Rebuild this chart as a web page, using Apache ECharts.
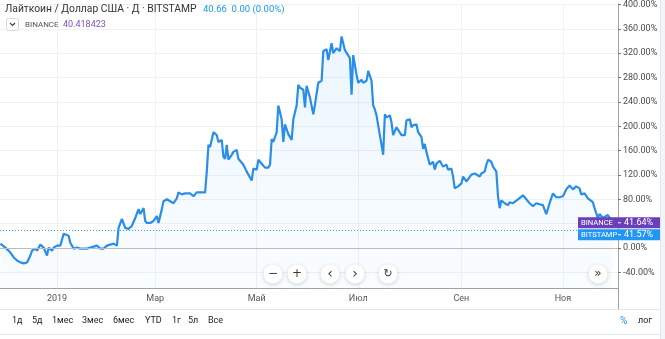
<!DOCTYPE html>
<html>
<head>
<meta charset="utf-8">
<script src="https://cdn.jsdelivr.net/npm/echarts@6/dist/echarts.min.js"></script>
<style>
  html, body { margin: 0; padding: 0; background: #fff; }
  #chart { width: 665px; height: 339px; }
</style>
</head>
<body>
<div id="chart"></div>
<script>
// LTC/USD (Bitstamp), daily closes as % change from the first bar.
// dayIndex = days since 1 Jan 2019.
const dayIndex = [
  -34, -31, -28, -26, -24, -22, -20, -18, -16, -15, -13, -12, -10, -8, -6, -5, -3, -2,
  0, 2, 4, 5, 7, 8, 10, 12, 14, 16, 18, 20, 22, 24, 26, 28, 30, 34, 36, 37, 39, 41, 43, 45,
  47, 49, 50, 52, 53, 54, 56, 58, 60, 61, 63, 64, 66, 68, 70, 72, 73, 75, 77, 78, 80, 82,
  84, 86, 89, 90, 91, 92, 94, 96, 97, 99, 100, 101, 102, 103, 105, 106, 108, 109, 112, 114,
  115, 117, 118, 120, 121, 123, 125, 127, 128, 129, 130, 132, 133, 135, 136, 137, 139, 141,
  142, 144, 145, 146, 148, 149, 150, 152, 154, 155, 157, 159, 160, 162, 163, 165, 166, 168,
  170, 171, 173, 174, 176, 177, 178, 180, 181, 183, 184, 186, 187, 189, 190, 191, 192, 194,
  195, 196, 197, 198, 200, 201, 202, 204, 205, 207, 209, 210, 212, 213, 214, 216, 217, 219,
  220, 221, 222, 224, 226, 227, 228, 230, 232, 234, 235, 237, 238, 239, 241, 243, 244, 246,
  247, 249, 251, 252, 254, 255, 257, 258, 259, 261, 262, 264, 265, 266, 267, 269, 271, 272,
  274, 277, 278, 280, 282, 284, 286, 288, 290, 292, 294, 296, 298, 299, 300, 302, 304, 306,
  308, 310, 312, 314, 315, 317, 319, 320, 322, 323, 325, 326, 328, 331, 332, 334
];
const pctChange = [
  7.3, 0.8, -7.3, -15.4, -20.3, -23.5, -25.1, -23.5, -12.2, -4.1, -0.8, -4.1, 5.7, 0.8, -12.2, 0.8, -4.1, 0.8,
  4.1, 4.1, 23.5, 23.5, 20.3, 8.9, -0.8, 0.8, -0.8, -0.8, -0.8, 0.8, 2.4, 4.1, -0.8, -0.8, 4.1, 7.3, 4.1, 33.2, 47.8, 33.2, 31.6, 36.5,
  49.4, 64.0, 55.9, 65.6, 44.6, 41.3, 41.3, 44.6, 52.7, 41.3, 64.0, 77.0, 80.2, 77.0, 73.7, 81.8, 91.5, 88.3, 89.9, 86.7, 89.9, 85.1,
  91.5, 91.5, 91.5, 125.6, 169.4, 166.1, 190.4, 185.6, 174.2, 177.5, 150.0, 146.7, 169.4, 145.1, 153.2, 158.0, 161.3, 146.7, 137.0, 125.6,
  120.7, 111.0, 130.5, 128.9, 145.1, 138.6, 132.1, 132.1, 137.0, 179.1, 174.2, 190.4, 234.2, 211.5, 174.2, 203.4, 187.2, 177.5,
  211.5, 234.2, 268.2, 263.4, 260.1, 230.9, 266.6, 247.2, 219.6, 235.8, 271.5, 274.7, 323.3, 326.6, 308.7, 336.3, 320.1, 328.2,
  323.3, 347.6, 325.0, 325.0, 312.0, 252.0, 316.8, 284.4, 271.5, 276.3, 271.5, 274.7, 290.9, 274.7, 234.2, 227.7, 218.0, 185.6,
  187.2, 153.2, 219.6, 214.7, 218.0, 206.6, 185.6, 198.5, 195.3, 185.6, 185.6, 209.9, 211.5, 198.5, 201.8, 203.4, 190.4, 182.3,
  162.9, 171.0, 158.0, 137.0, 141.8, 128.9, 138.6, 143.4, 133.7, 137.0, 128.9, 130.5, 117.5, 98.1, 101.3, 106.2, 117.5, 109.4,
  106.2, 120.7, 122.4, 120.7, 117.5, 122.4, 125.6, 137.0, 145.1, 141.8, 133.7, 125.6, 85.1, 65.6, 78.6, 73.7, 70.5, 75.4,
  73.7, 80.2, 78.6, 86.7, 80.2, 73.7, 68.9, 73.7, 72.1, 70.5, 55.9, 73.7, 89.9, 88.3, 83.5, 83.5, 85.1, 96.4,
  102.9, 96.4, 101.3, 98.1, 88.3, 89.9, 81.8, 83.5, 75.4, 65.6, 49.4, 55.9, 49.4, 54.3, 52.7, 41.57
];

const monthTickDays = [0, 59, 120, 181, 243, 304];
const monthTickLabels = ['2019', 'Мар', 'Май', 'Июл', 'Сен', 'Ноя'];
const pctTicks = [-40, 0, 40, 80, 120, 160, 200, 240, 280, 320, 360, 400];

const lastBinance = 41.64;
const lastBitstamp = 41.57;
const referenceLevel = 30;

const titleText = 'Лайткоин / Доллар США · Д · BITSTAMP';
const quoteText = '40.66  0.00 (0.00%)';
const compareName = 'BINANCE';
const compareQuote = '40.418423';
const rangeButtons = ['1д', '5д', '1мес', '3мес', '6мес', 'YTD', '1г', '5л', 'Все'];

const FONT = 'Roboto, "Noto Sans", sans-serif';
const LINE = '#2a8ee8';
const PURPLE = '#6a3fb8';
const BLUE = '#2196f3';

const chart = echarts.init(document.getElementById('chart'), null, { renderer: 'canvas' });

chart.setOption({
  animation: false,
  backgroundColor: '#ffffff',
  grid: { left: 0, right: 47, top: 0, bottom: 51, containLabel: false },
  xAxis: {
    type: 'value',
    min: -34.25,
    max: 337.1,
    axisLine: { show: true, onZero: false, lineStyle: { color: '#9ea3ab', width: 1 } },
    axisTick: { show: false, customValues: monthTickDays },
    axisLabel: {
      customValues: monthTickDays,
      formatter: v => monthTickLabels[monthTickDays.indexOf(v)] || '',
      color: '#555', fontSize: 9, fontFamily: FONT, margin: 6
    },
    splitLine: { show: true, lineStyle: { color: '#eef1f6', width: 1 } }
  },
  yAxis: {
    type: 'value',
    position: 'right',
    min: -65.5,
    max: 401,
    axisLine: { show: true, onZero: false, lineStyle: { color: '#9ea3ab', width: 1 } },
    axisTick: { show: true, length: 3, customValues: pctTicks, lineStyle: { color: '#777' } },
    axisLabel: {
      customValues: pctTicks,
      formatter: v => v.toFixed(2) + '%',
      color: '#4a4a4a', fontSize: 9, fontFamily: FONT, margin: 5
    },
    splitLine: { show: true, lineStyle: { color: '#eef1f6', width: 1 } }
  },
  series: [{
    type: 'line',
    data: dayIndex.map((d, i) => [d, pctChange[i]]),
    showSymbol: false,
    lineStyle: { color: LINE, width: 2.2 },
    areaStyle: {
      origin: 'start',
      color: new echarts.graphic.LinearGradient(0, 0, 0, 1, [
        { offset: 0, color: 'rgba(33,150,243,0.12)' },
        { offset: 1, color: 'rgba(33,150,243,0.03)' }
      ])
    },
    z: 3,
    markLine: {
      silent: true,
      symbol: 'none',
      label: { show: false },
      data: [
        { yAxis: 0, lineStyle: { color: '#b9bcc2', type: 'solid', width: 1 } },
        { yAxis: referenceLevel, lineStyle: { color: '#4a9fe6', type: [1, 2], width: 1 } }
      ]
    }
  }]
});

// Price-scale badges, stacked where they would overlap
const yBin = chart.convertToPixel({ yAxisIndex: 0 }, lastBinance);
const yBit = Math.max(chart.convertToPixel({ yAxisIndex: 0 }, lastBitstamp), yBin + 12);

function badge(y, name, value, color) {
  return [
    { type: 'rect', shape: { x: 578, y: y - 5.5, width: 82, height: 11 }, style: { fill: color }, z: 20 },
    { type: 'text', x: 581, y: y, style: { text: name, fill: '#fff', fontSize: 7.6, fontFamily: FONT, textVerticalAlign: 'middle' }, z: 21 },
    { type: 'line', shape: { x1: 618, y1: y, x2: 621, y2: y }, style: { stroke: '#fff', lineWidth: 1 }, z: 21 },
    { type: 'text', x: 624, y: y, style: { text: value.toFixed(2) + '%', fill: '#fff', fontSize: 9, fontFamily: FONT, textVerticalAlign: 'middle' }, z: 21 }
  ];
}

function roundButton(cx, cy, glyph, size) {
  return [
    { type: 'circle', shape: { cx: cx, cy: cy, r: 9.5 }, style: { fill: '#fff', shadowBlur: 4, shadowColor: 'rgba(0,0,0,0.18)', shadowOffsetY: 1 }, z: 30 },
    { type: 'text', x: cx, y: cy, style: { text: glyph, fill: '#3a3a3a', fontSize: size, fontFamily: '"DejaVu Sans", sans-serif', align: 'center', verticalAlign: 'middle' }, z: 31 }
  ];
}

const graphics = [];

// Header legend
graphics.push(
  { type: 'text', x: 5, y: 9, style: { text: titleText, fill: '#333', fontSize: 10.3, fontFamily: FONT, textVerticalAlign: 'middle' }, z: 40 },
  { type: 'text', x: 203, y: 9.5, style: { text: quoteText, fill: BLUE, fontSize: 9.5, fontFamily: FONT, textVerticalAlign: 'middle' }, z: 40 },
  { type: 'rect', shape: { x: 6.5, y: 18.5, width: 12, height: 12, r: 2 }, style: { fill: '#fff', stroke: '#d5d8de', lineWidth: 1 }, z: 40 },
  { type: 'polyline', shape: { points: [[10, 23], [12.5, 25.5], [15, 23]] }, style: { stroke: '#444', lineWidth: 1.2, fill: null }, z: 41 },
  { type: 'text', x: 25, y: 25, style: { text: compareName, fill: '#555', fontSize: 8, fontFamily: FONT, textVerticalAlign: 'middle' }, z: 40 },
  { type: 'text', x: 63, y: 25, style: { text: compareQuote, fill: '#7b52c7', fontSize: 9, fontFamily: FONT, textVerticalAlign: 'middle' }, z: 40 }
);

graphics.push(...badge(yBin, 'BINANCE', lastBinance, PURPLE));
graphics.push(...badge(yBit, 'BITSTAMP', lastBitstamp, BLUE));

// Navigation buttons
graphics.push(
  ...roundButton(273, 274, '−', 12),
  ...roundButton(297, 274, '+', 12),
  ...roundButton(330, 274, '‹', 14),
  ...roundButton(355, 274, '›', 14),
  ...roundButton(388, 274, '↻', 11),
  ...roundButton(598, 274, '»', 12)
);

// Frame and bottom toolbar
graphics.push(
  { type: 'line', shape: { x1: 618.5, y1: 288, x2: 618.5, y2: 309 }, style: { stroke: '#9ea3ab', lineWidth: 1 }, z: 5 },
  { type: 'line', shape: { x1: 0, y1: 309.5, x2: 660, y2: 309.5 }, style: { stroke: '#e3e6ec', lineWidth: 1 }, z: 5 },
  { type: 'line', shape: { x1: 0, y1: 334.5, x2: 660, y2: 334.5 }, style: { stroke: '#e3e6ec', lineWidth: 1 }, z: 5 },
  { type: 'line', shape: { x1: 660.5, y1: 0, x2: 660.5, y2: 339 }, style: { stroke: '#e3e6ec', lineWidth: 1 }, z: 5 },
  { type: 'rect', shape: { x: 661, y: 0, width: 4, height: 339 }, style: { fill: '#f3f4f6' }, z: 5 }
);

const btnX = [12, 32, 52, 82, 113, 145, 172, 188, 208];
rangeButtons.forEach((t, i) => {
  graphics.push({ type: 'text', x: btnX[i], y: 321, style: { text: t, fill: '#222', fontSize: 9, fontFamily: FONT, textVerticalAlign: 'middle' }, z: 40 });
});
graphics.push(
  { type: 'text', x: 620, y: 321, style: { text: '%', fill: BLUE, fontSize: 10, fontFamily: FONT, textVerticalAlign: 'middle' }, z: 40 },
  { type: 'text', x: 638, y: 321, style: { text: 'лог', fill: '#222', fontSize: 9, fontFamily: FONT, textVerticalAlign: 'middle' }, z: 40 }
);

chart.setOption({ graphic: graphics });
</script>
</body>
</html>
